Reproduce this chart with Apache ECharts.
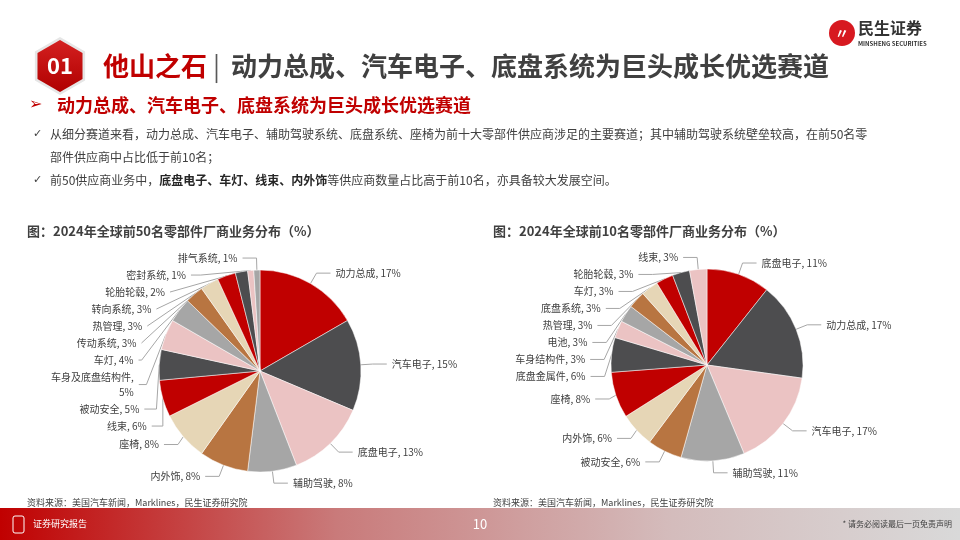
<!DOCTYPE html>
<html>
<head>
<meta charset="utf-8">
<script src="https://cdn.jsdelivr.net/npm/echarts@6/dist/echarts.min.js"></script>
<style>
html,body{margin:0;padding:0;background:#fff;}
#c{width:960px;height:540px;}
</style>
</head>
<body>
<div id="c"></div>
<script>
// ---- data ----
const top50Names = ['动力总成','汽车电子','底盘电子','辅助驾驶','内外饰','座椅','线束','被动安全','车身及底盘结构件','车灯','传动系统','热管理','转向系统','轮胎轮毂','密封系统','排气系统'];
const top50Values = [17,15,13,8,8,8,6,5,5,4,3,3,3,2,1,1];
const top10Names = ['底盘电子','动力总成','汽车电子','辅助驾驶','被动安全','内外饰','座椅','底盘金属件','车身结构件','电池','热管理','底盘系统','车灯','轮胎轮毂','线束'];
const top10Values = [11,17,17,11,6,6,8,6,3,3,3,3,3,3,3];
const palette = ['#c00000','#4d4d4f','#ebc3c3','#a6a6a6','#b87541','#e6d6b6'];

const FONT = '"Noto Sans CJK SC","Microsoft YaHei",sans-serif';
const chart = echarts.init(document.getElementById('c'));

function mk(names, values){
  return names.map((n,i)=>({name:n,value:values[i],itemStyle:{color:palette[i%palette.length]}}));
}
function pieSeries(names, values, center, r){
  return {
    type:'pie', center:center, radius:r, startAngle:90, clockwise:true,
    data: mk(names, values),
    itemStyle:{borderColor:'#ffffff',borderWidth:0.5},
    label:{show:true, color:'#404040', fontSize:10, fontFamily:FONT, lineHeight:15,
      formatter:p=> p.name.length>6 ? p.name+',\n'+p.value+'%' : p.name+', '+p.value+'%'},
    labelLine:{show:true, length:12, length2:14, lineStyle:{color:'#a6a6a6',width:1}},
    emphasis:{disabled:true}, animation:false
  };
}

// hexagon points
const hx=60, hy=66, hr=26;
const hex=[]; const hexS=[];
for(let k=0;k<6;k++){const a=Math.PI/180*(60*k-90);hex.push([hx+hr*Math.cos(a),hy+hr*Math.sin(a)]);hexS.push([hx+(hr+3)*Math.cos(a),hy+(hr+3)*Math.sin(a)]);}

chart.setOption({
  animation:false,
  series:[
    pieSeries(top50Names, top50Values, [260,371], 101),
    pieSeries(top10Names, top10Values, [707,365], 96)
  ],
  graphic:[
    // header hexagon
    {type:'polygon',shape:{points:hexS,smooth:0},style:{fill:'#e6e6e6'}},
    {type:'polygon',shape:{points:hex},style:{fill:new echarts.graphic.LinearGradient(0,0,0,1,[{offset:0,color:'#d42020'},{offset:1,color:'#b00000'}])}},
    {type:'text',x:hx,y:hy,style:{text:'01',font:'bold 22px '+FONT,fill:'#fff',align:'center',verticalAlign:'middle'}},
    {type:'text',x:103,y:66,style:{text:'他山之石',font:'bold 26px '+FONT,fill:'#c00000',verticalAlign:'middle'}},
    {type:'text',x:213,y:66,style:{text:'|',font:'26px '+FONT,fill:'#595959',verticalAlign:'middle'}},
    {type:'text',x:231,y:66,style:{text:'动力总成、汽车电子、底盘系统为巨头成长优选赛道',font:'bold 26px '+FONT,fill:'#404040',verticalAlign:'middle'}},
    // logo
    {type:'circle',shape:{cx:842,cy:33,r:13},style:{fill:'#d71920'}},
    {type:'text',x:842,y:33,style:{text:'〃',font:'bold 14px '+FONT,fill:'#fff',align:'center',verticalAlign:'middle'}},
    {type:'text',x:858,y:28,style:{text:'民生证券',font:'bold 16px '+FONT,fill:'#333',verticalAlign:'middle'}},
    {type:'text',x:858,y:44,style:{text:'MINSHENG SECURITIES',font:'bold 6px '+FONT,fill:'#333',verticalAlign:'middle'}},
    // subtitle
    {type:'text',x:29,y:105,style:{text:'➢',font:'16px "DejaVu Sans"',fill:'#c00000',verticalAlign:'middle'}},
    {type:'text',x:57,y:105,style:{text:'动力总成、汽车电子、底盘系统为巨头成长优选赛道',font:'bold 18px '+FONT,fill:'#c00000',verticalAlign:'middle'}},
    // bullets
    {type:'text',x:33,y:134,style:{text:'✓',font:'11px "DejaVu Sans"',fill:'#404040',verticalAlign:'middle'}},
    {type:'text',x:50,y:134,style:{text:'从细分赛道来看，动力总成、汽车电子、辅助驾驶系统、底盘系统、座椅为前十大零部件供应商涉足的主要赛道；其中辅助驾驶系统壁垒较高，在前50名零',font:'12px '+FONT,fill:'#404040',verticalAlign:'middle'}},
    {type:'text',x:50,y:157,style:{text:'部件供应商中占比低于前10名；',font:'12px '+FONT,fill:'#404040',verticalAlign:'middle'}},
    {type:'text',x:33,y:180,style:{text:'✓',font:'11px "DejaVu Sans"',fill:'#404040',verticalAlign:'middle'}},
    {type:'text',x:50,y:180,style:{
      text:'{n|前50供应商业务中，}{b|底盘电子、车灯、线束、内外饰}{n|等供应商数量占比高于前10名，亦具备较大发展空间。}',
      verticalAlign:'middle',
      rich:{n:{font:'12px '+FONT,fill:'#404040'},b:{font:'bold 12px '+FONT,fill:'#262626'}}}},
    // chart titles
    {type:'text',x:27,y:231,style:{text:'图：2024年全球前50名零部件厂商业务分布（%）',font:'bold 13px '+FONT,fill:'#404040',verticalAlign:'middle'}},
    {type:'text',x:493,y:231,style:{text:'图：2024年全球前10名零部件厂商业务分布（%）',font:'bold 13px '+FONT,fill:'#404040',verticalAlign:'middle'}},
    // sources
    {type:'text',x:27,y:503,style:{text:'资料来源：美国汽车新闻，Marklines，民生证券研究院',font:'9px '+FONT,fill:'#404040',verticalAlign:'middle'}},
    {type:'text',x:493,y:503,style:{text:'资料来源：美国汽车新闻，Marklines，民生证券研究院',font:'9px '+FONT,fill:'#404040',verticalAlign:'middle'}},
    // footer
    {type:'rect',shape:{x:0,y:508,width:960,height:32},style:{fill:new echarts.graphic.LinearGradient(0,0,1,0,[{offset:0,color:'#c00000'},{offset:0.35,color:'#c97a7a'},{offset:0.7,color:'#d4bcbc'},{offset:1,color:'#d9d9d9'}])}},
    {type:'rect',shape:{x:13,y:516,width:11,height:17,r:2},style:{fill:'none',stroke:'#fff',lineWidth:1}},
    {type:'text',x:33,y:524,style:{text:'证券研究报告',font:'9px '+FONT,fill:'#fff',verticalAlign:'middle'}},
    {type:'text',x:480,y:524,style:{text:'10',font:'13px '+FONT,fill:'#fff',align:'center',verticalAlign:'middle'}},
    {type:'text',x:952,y:524,style:{text:'* 请务必阅读最后一页免责声明',font:'8px '+FONT,fill:'#404040',align:'right',verticalAlign:'middle'}}
  ]
});
</script>
</body>
</html>
